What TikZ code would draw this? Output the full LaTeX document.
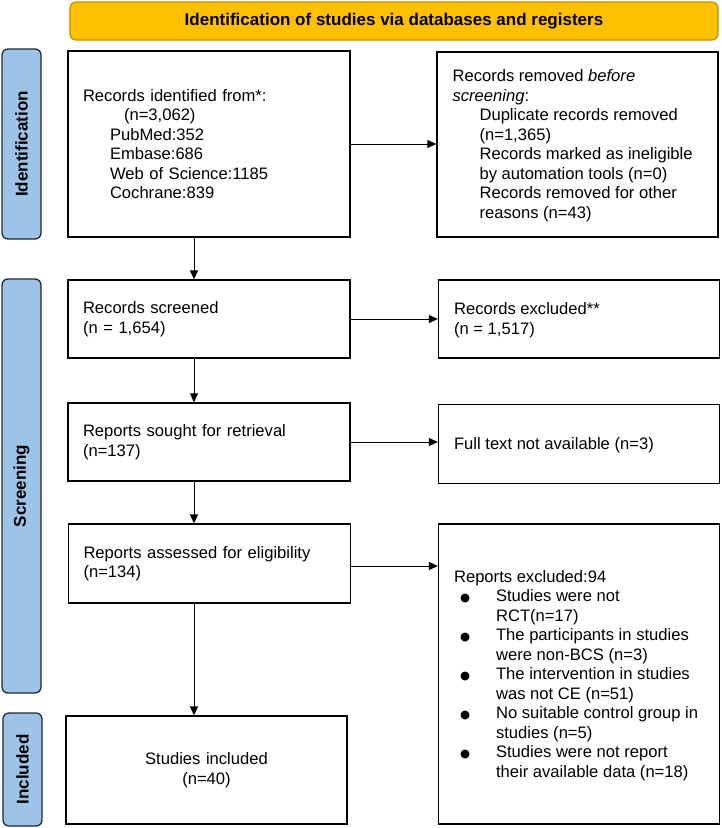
\documentclass[tikz,border=0pt]{standalone}
\usepackage{fontspec}
\setmainfont{Liberation Sans}
\newfontfamily\symfont{DejaVu Sans}
\usetikzlibrary{arrows.meta,calc}
\definecolor{hdrfill}{HTML}{FFC000}
\definecolor{hdrdraw}{HTML}{BF9000}
\definecolor{sidefill}{HTML}{9DC3E6}
\definecolor{sidedraw}{HTML}{1F2A38}
\newcommand{\bul}{\hspace*{6pt}\makebox[36pt][l]{\symfont\fontsize{11.5}{12}\selectfont ●}}
\newcommand{\hang}{\hspace*{42pt}}
\begin{document}
\begin{tikzpicture}[x=1pt,y=-1pt,
  every node/.style={font=\fontsize{16.6}{19.5}\selectfont},
  box/.style={draw=black,line width=1.3pt,fill=white,align=left,inner xsep=15pt,inner ysep=0pt,anchor=center},
  rbox/.style={draw=black,line width=1.3pt,fill=white,minimum width=281pt,inner sep=0pt,anchor=center},
  rtext/.style={anchor=west,align=left,inner sep=0pt},
  sidebox/.style={draw=sidedraw,fill=sidefill,line width=1.3pt,rounded corners=6pt,minimum height=39pt,rotate=90,font=\fontsize{17}{19.5}\selectfont\bfseries,inner sep=0pt},
  arr/.style={line width=0.9pt,-{Triangle[length=9pt,width=8pt]}}]
\useasboundingbox (0,0) rectangle (721,828);
% header
\node[draw=hdrdraw,fill=hdrfill,line width=1.2pt,rounded corners=6pt,minimum width=648pt,minimum height=38pt,inner sep=0pt,font=\fontsize{17}{19.5}\selectfont\bfseries] (hdr) at (394,21) {Identification of studies via databases and registers};
% side labels
\node[sidebox,minimum width=190pt] (sid) at (21.5,144) {Identification};
\node[sidebox,minimum width=414pt] (sscr) at (21.5,486) {Screening};
\node[sidebox,minimum width=113pt] (sinc) at (22.5,769.5) {Included};
% left column
\node[box,minimum width=282pt,text width=252pt,minimum height=186pt] (b1) at (209,144) {Records identified from*:\\
\hspace*{41pt}(n=3,062)\\
\hspace*{27pt}PubMed:352\\
\hspace*{27pt}Embase:686\\
\hspace*{27pt}Web of Science:1185\\
\hspace*{27pt}Cochrane:839};
\node[box,minimum width=282pt,text width=252pt,minimum height=78pt] (b2) at (209,319) {Records screened\\(n = 1,654)};
\node[box,minimum width=282pt,text width=252pt,minimum height=78pt] (b3) at (209,442) {Reports sought for retrieval\\(n=137)};
\node[box,minimum width=282pt,text width=252pt,minimum height=79pt] (b4) at (209.5,563.5) {Reports assessed for eligibility\\(n=134)};
\node[box,minimum width=281pt,text width=251pt,minimum height=108pt,align=center] (b5) at (206.5,770) {Studies included\\(n=40)};
% right column
\node[rbox,minimum height=185pt] (r1) at (577.5,144.5) {};
\node[rtext] (t1) at ($(r1.west)+(16,1)$) {Records removed \textit{before}\\
\textit{screening}:\\
\hspace*{27pt}Duplicate records removed\\
\hspace*{27pt}(n=1,365)\\
\hspace*{27pt}Records marked as ineligible\\
\hspace*{27pt}by automation tools (n=0)\\
\hspace*{27pt}Records removed for other\\
\hspace*{27pt}reasons (n=43)};
\node[rbox,minimum height=78pt] (r2) at (579,319) {};
\node[rtext] (t2) at ($(r2.west)+(16,1)$) {Records excluded**\\(n = 1,517)};
\node[rbox,minimum height=79pt] (r3) at (579,444) {};
\node[rtext] (t3) at ($(r3.west)+(16,1)$) {Full text not available (n=3)};
\node[rbox,minimum height=300pt] (r4) at (579,674) {};
\node[rtext] (t4) at ($(r4.west)+(16,1.5)$) {Reports excluded:94\\
\bul Studies were not\\
\hang RCT(n=17)\\
\bul The participants in studies\\
\hang were non-BCS (n=3)\\
\bul The intervention in studies\\
\hang was not CE (n=51)\\
\bul No suitable control group in\\
\hang studies (n=5)\\
\bul Studies were not report\\
\hang their available data (n=18)};
% connectors
\coordinate (vx) at (194,0);
\draw[arr] (b1.south -| vx) -- (b2.north -| vx);
\draw[arr] (b2.south -| vx) -- (b3.north -| vx);
\draw[arr] (b3.south -| vx) -- (b4.north -| vx);
\draw[arr] (b4.south -| vx) -- (b5.north -| vx);
\draw[arr] (b1.east) -- (b1.east -| r1.west);
\draw[arr] (b2.east) -- (b2.east -| r2.west);
\draw[arr] (b3.east) -- (b3.east -| r3.west);
\draw[arr] ($(b4.east)+(0,2.5)$) -- ($(b4.east -| r4.west)+(0,2.5)$);
\end{tikzpicture}
\end{document}
